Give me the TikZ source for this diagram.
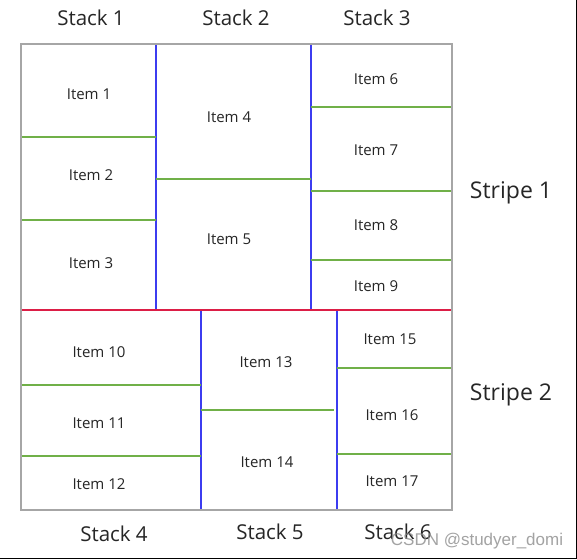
\documentclass[tikz,border=0pt]{standalone}
\usepackage{fontspec}
\setmainfont{Open Sans}
\newfontfamily\wmfont{Liberation Sans}
\begin{document}
\begin{tikzpicture}[x=1pt,y=-1pt,
  item/.style={font=\fontsize{15}{17}\selectfont, text=black!85},
  stacklbl/.style={font=\fontsize{20.5}{23}\selectfont, text=black!85},
  stripelbl/.style={font=\fontsize{23}{26}\selectfont, text=black!85}]
\definecolor{gcol}{RGB}{112,176,72}
\definecolor{bcol}{RGB}{60,60,240}
\definecolor{rcol}{RGB}{220,30,70}
\tikzset{
  vline/.style={draw=bcol, line width=1.8pt},
  gline/.style={draw=gcol, line width=2.6pt},
  rline/.style={draw=rcol, line width=2.4pt},
  outer/.style={draw=black!35, line width=2pt}}
\useasboundingbox (0,0) rectangle (577,559);
\fill[white] (0,0) rectangle (577,559);
% stripe 1
\draw[vline] (156,44) -- (156,310);
\draw[vline] (311,44) -- (311,310);
\draw[gline] (21,137) -- (156,137);
\draw[gline] (21,220) -- (156,220);
\draw[gline] (156,179) -- (311,179);
\draw[gline] (311,107) -- (452,107);
\draw[gline] (311,191) -- (452,191);
\draw[gline] (311,260) -- (452,260);
% stripe 2
\draw[vline] (201,310) -- (201,510);
\draw[vline] (337,310) -- (337,510);
\draw[gline] (21,385) -- (201,385);
\draw[gline] (21,456) -- (201,456);
\draw[gline] (201,410) -- (334,410);
\draw[gline] (337,368) -- (452,368);
\draw[gline] (337,454) -- (452,454);
\draw[rline] (21,310) -- (452,310);
\draw[outer] (21,44) rectangle (452,510);
% items
\node[item] (i1) at (89,94) {Item 1};
\node[item] (i2) at (91,175) {Item 2};
\node[item] (i3) at (91,263) {Item 3};
\node[item] (i4) at (229,117) {Item 4};
\node[item] (i5) at (229,239) {Item 5};
\node[item] (i6) at (376,79) {Item 6};
\node[item] (i7) at (376,150) {Item 7};
\node[item] (i8) at (376,225) {Item 8};
\node[item] (i9) at (376,286) {Item 9};
\node[item] (i10) at (99,352) {Item 10};
\node[item] (i11) at (99,423) {Item 11};
\node[item] (i12) at (99,484) {Item 12};
\node[item] (i13) at (266,362) {Item 13};
\node[item] (i14) at (267,462) {Item 14};
\node[item] (i15) at (390,339) {Item 15};
\node[item] (i16) at (392,415) {Item 16};
\node[item] (i17) at (392,481) {Item 17};
% stacks
\node[stacklbl] (s1) at (91,18) {Stack 1};
\node[stacklbl] (s2) at (236,18) {Stack 2};
\node[stacklbl] (s3) at (377,18) {Stack 3};
\node[stacklbl] (s4) at (114,534) {Stack 4};
\node[stacklbl] (s5) at (270,532) {Stack 5};
\node[stacklbl] (s6) at (398,532) {Stack 6};
\node[stripelbl] (p1) at (511,193) {Stripe 1};
\node[stripelbl] (p2) at (511,395) {Stripe 2};
% watermark
\node[font=\wmfont\fontsize{17}{19}\selectfont, text=black!45, opacity=0.8] (wm) at (477,541) {CSDN @studyer\_domi};
% image frame
\draw[black, line width=1.5pt] (576.25,0) -- (576.25,558.25) -- (0,558.25);
\end{tikzpicture}
\end{document}
